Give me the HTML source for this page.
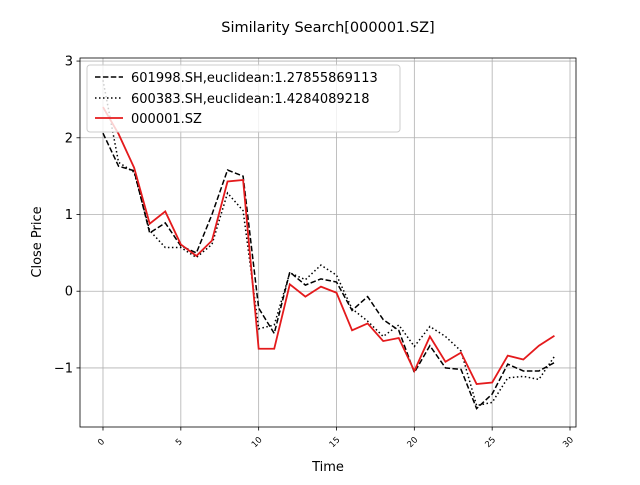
<!DOCTYPE html>
<html><head><meta charset="utf-8"><style>
body{margin:0;background:#fff}
svg text{font-family:"DejaVu Sans","Liberation Sans",sans-serif}
</style></head><body>
<svg id="chart" width="640" height="480" xmlns="http://www.w3.org/2000/svg">
<rect width="640" height="480" fill="#fff"/>
<text x="328" y="32" font-size="14.5" text-anchor="middle">Similarity Search[000001.SZ]</text>
<g id="grid"></g><g id="series"></g><g id="axes"></g>
<text x="328" y="471" font-size="13" text-anchor="middle">Time</text>
<text transform="translate(41,242) rotate(-90)" font-size="13" text-anchor="middle">Close Price</text>
<g>
<rect x="87" y="65" width="313" height="67" rx="3" fill="#fff" fill-opacity="0.8" stroke="#ccc"/>
<line x1="95" y1="77" x2="123" y2="77" stroke="#000" stroke-width="1.5" stroke-dasharray="5.5,2.4"/>
<text x="131" y="82" font-size="13">601998.SH,euclidean:1.27855869113</text>
<line x1="95" y1="98" x2="123" y2="98" stroke="#000" stroke-width="1.5" stroke-dasharray="1.5,2.5"/>
<text x="131" y="103" font-size="13">600383.SH,euclidean:1.4284089218</text>
<line x1="95" y1="118" x2="123" y2="118" stroke="#e41a1c" stroke-width="1.8"/>
<text x="131" y="123" font-size="13">000001.SZ</text>
</g>
</svg>
<script>
const times=[0,1,2,3,4,5,6,7,8,9,10,11,12,13,14,15,16,17,18,19,20,21,22,23,24,25,26,27,28,29];
const s601998=[2.06,1.63,1.57,0.76,0.89,0.59,0.50,1.00,1.58,1.50,-0.22,-0.55,0.25,0.08,0.16,0.12,-0.25,-0.07,-0.37,-0.51,-1.06,-0.71,-1.00,-1.02,-1.53,-1.34,-0.95,-1.04,-1.04,-0.93];
const s600383=[2.75,1.68,1.55,0.79,0.57,0.57,0.44,0.61,1.28,1.05,-0.49,-0.44,0.24,0.15,0.34,0.21,-0.23,-0.39,-0.59,-0.44,-0.72,-0.46,-0.59,-0.78,-1.49,-1.45,-1.13,-1.11,-1.15,-0.85];
const s000001=[2.40,2.05,1.61,0.88,1.04,0.61,0.46,0.66,1.43,1.45,-0.75,-0.75,0.09,-0.07,0.06,-0.02,-0.51,-0.42,-0.65,-0.61,-1.04,-0.59,-0.92,-0.80,-1.21,-1.19,-0.84,-0.89,-0.71,-0.58];
const xTicks=[0,5,10,15,20,25,30];
const yTicks=[-1,0,1,2,3];
const L=80,R=576,T=58,B=427,xmin=-1.477,xmax=30.385,ymin=-1.77,ymax=3.04;
const X=v=>L+(v-xmin)/(xmax-xmin)*(R-L);
const Y=v=>B-(v-ymin)/(ymax-ymin)*(B-T);
const NS="http://www.w3.org/2000/svg";
function mk(tag,attrs,parent){const e=document.createElementNS(NS,tag);for(const k in attrs)e.setAttribute(k,attrs[k]);document.getElementById(parent).appendChild(e);return e;}
xTicks.forEach(t=>{
 const g=mk('line',{x1:X(t),x2:X(t),y1:T,y2:B,stroke:'#b0b0b0','stroke-width':0.8},'grid');
 
 
 mk('line',{x1:X(t),x2:X(t),y1:B,y2:B+3.5,stroke:'#000','stroke-width':0.8},'axes');
 const tx=mk('text',{x:0,y:0,'font-size':8.5,'text-anchor':'middle',transform:`translate(${X(t)},${B+17}) rotate(-45)`},'axes');
 tx.textContent=t;
 
 
});
yTicks.forEach(t=>{
 const g=mk('line',{x1:L,x2:R,y1:Y(t),y2:Y(t),stroke:'#b0b0b0','stroke-width':0.8},'grid');
 
 
 mk('line',{x1:L-3.5,x2:L,y1:Y(t),y2:Y(t),stroke:'#000','stroke-width':0.8},'axes');
 const tx=mk('text',{x:L-7,y:Y(t)+4.5,'font-size':13,'text-anchor':'end'},'axes');
 tx.textContent=t<0?'\u2212'+(-t):t;
 
 
});
const fr=mk('rect',{x:L,y:T,width:R-L,height:B-T,fill:'none',stroke:'#000','stroke-width':0.8},'axes');


function line(vals,attrs,name){
 const p=mk('polyline',Object.assign({points:vals.map((v,i)=>X(times[i])+','+Y(v)).join(' '),fill:'none'},attrs),'series');
 
 
}
line(s601998,{stroke:'#000','stroke-width':1.5,'stroke-dasharray':'5.5,2.4'},'series-601998');
line(s600383,{stroke:'#000','stroke-width':1.5,'stroke-dasharray':'1.5,2.5'},'series-600383');
line(s000001,{stroke:'#e41a1c','stroke-width':1.8},'series-000001');
</script>
</body></html>
